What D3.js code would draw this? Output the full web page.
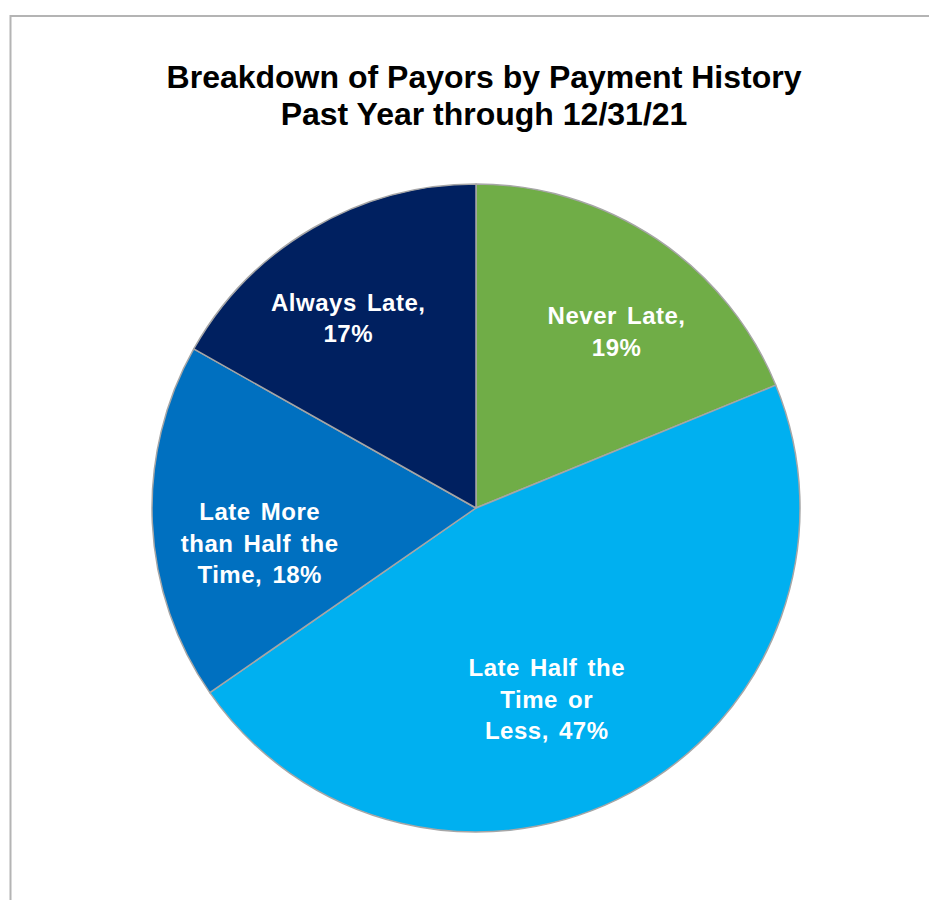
<!DOCTYPE html>
<html>
<head>
<meta charset="utf-8">
<script src="https://cdn.jsdelivr.net/npm/d3@7"></script>
<style>
  html, body { margin: 0; padding: 0; background: #ffffff; }
  svg { display: block; }
  text { font-family: Arial, "Liberation Sans", Helvetica, sans-serif; font-weight: bold; }
</style>
</head>
<body>
<svg id="chart" width="929" height="900"></svg>
<script>
// Payor breakdown by payment history, past year through 12/31/21
const categories = [
  "Never Late",
  "Late Half the Time or Less",
  "Late More than Half the Time",
  "Always Late"
];
const shares = [19, 47, 18, 17];
const labelLines = [
  ["Never Late,", "19%"],
  ["Late Half the", "Time or", "Less, 47%"],
  ["Late More", "than Half the", "Time, 18%"],
  ["Always Late,", "17%"]
];
const sliceColors = ["#70AD47", "#00B0F0", "#0070C0", "#002060"];
const titleLines = ["Breakdown of Payors by Payment History", "Past Year through 12/31/21"];

const svg = d3.select("#chart");
const W = 929, H = 900;

// chart-area frame (top and left edges)
svg.append("path")
  .attr("d", `M10.5,${H} V16 H${W}`)
  .attr("fill", "none")
  .attr("stroke", "#b4b4b4")
  .attr("stroke-width", 2);

// title
const title = svg.append("text")
  .attr("text-anchor", "middle")
  .attr("font-size", 32)
  .attr("fill", "#000");
titleLines.forEach((t, i) => {
  title.append("tspan")
    .attr("x", 484)
    .attr("y", 88 + i * 37)
    .text(t);
});

// pie
const cx = 476, cy = 508, R = 324;
const data = categories.map((c, i) => ({ name: c, value: shares[i], color: sliceColors[i], lines: labelLines[i] }));
const pie = d3.pie().sort(null).value(d => d.value);
const arcs = pie(data);
const arc = d3.arc().innerRadius(0).outerRadius(R);
const labelArc = d3.arc().innerRadius(R * 0.69).outerRadius(R * 0.69);

const g = svg.append("g").attr("transform", `translate(${cx},${cy})`);

g.selectAll("path.slice")
  .data(arcs)
  .join("path")
  .attr("class", "slice")
  .attr("d", arc)
  .attr("fill", d => d.data.color)
  .attr("stroke", "#a6a6a6")
  .attr("stroke-width", 1.5)
  .attr("stroke-linejoin", "round");

// label placement tweaks relative to each slice's centroid
const labelNudge = [[16, 9], [-36, -5], [7, 25], [-15, 3]];
const lineH = 31.5;

g.selectAll("text.label")
  .data(arcs)
  .join("text")
  .attr("class", "label")
  .attr("text-anchor", "middle")
  .attr("font-size", 24)
  .attr("letter-spacing", 0.5)
  .attr("word-spacing", 3)
  .attr("fill", "#ffffff")
  .each(function(d, i) {
    const [x0, y0] = labelArc.centroid(d);
    const x = x0 + labelNudge[i][0];
    const y = y0 + labelNudge[i][1];
    const n = d.data.lines.length;
    const sel = d3.select(this);
    d.data.lines.forEach((ln, k) => {
      sel.append("tspan")
        .attr("x", x)
        .attr("y", y + (k - (n - 1) / 2) * lineH + 8.5)
        .text(ln);
    });
  });
</script>
</body>
</html>
